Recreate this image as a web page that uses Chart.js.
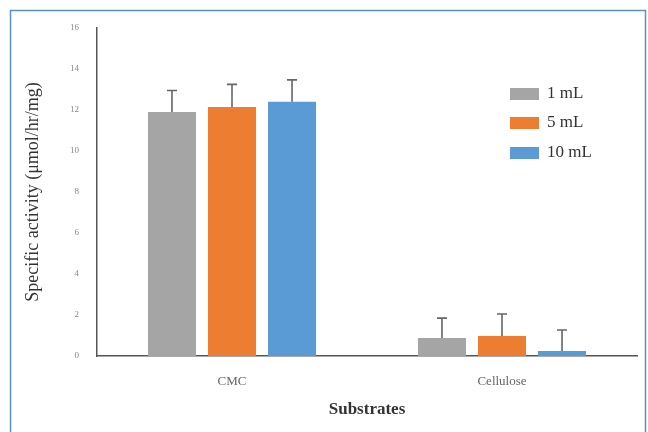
<!DOCTYPE html>
<html>
<head>
<meta charset="utf-8">
<script src="https://cdn.jsdelivr.net/npm/chart.js@4"></script>
<style>
  body { margin: 0; background: #fff; }
  #wrap { width: 648px; height: 432px; }
</style>
</head>
<body>
<div id="wrap"><canvas id="bar-chart" width="648" height="432"></canvas></div>
<script>
// data
const substrates = ["CMC", "Cellulose"];
const seriesNames = ["1 mL", "5 mL", "10 mL"];
const vals1 = [11.9, 0.88];
const vals5 = [12.15, 0.97];
const vals10 = [12.4, 0.25];
const err1 = [1.05, 0.97];
const err5 = [1.1, 1.08];
const err10 = [1.07, 1.02];
const colors = ["#a5a5a5", "#ed7d31", "#5b9bd5"];

const errorBars = {
    id: "errorBars",
    afterDatasetsDraw(chart) {
        const ctx = chart.ctx;
        const y = chart.scales.y;
        ctx.save();
        ctx.strokeStyle = "#666";
        ctx.lineWidth = 1.6;
        chart.data.datasets.forEach((ds, i) => {
            const meta = chart.getDatasetMeta(i);
            meta.data.forEach((bar, j) => {
                const top = y.getPixelForValue(ds.data[j] + ds.errors[j]);
                ctx.beginPath();
                ctx.moveTo(bar.x, bar.y);
                ctx.lineTo(bar.x, top);
                ctx.moveTo(bar.x - 5, top);
                ctx.lineTo(bar.x + 5, top);
                ctx.stroke();
            });
        });
        ctx.restore();
    }
};

const extras = {
    id: "extras",
    afterDraw(chart) {
        const ctx = chart.ctx;
        ctx.save();
        // outer frame
        ctx.strokeStyle = "#5b8fd0";
        ctx.lineWidth = 1.5;
        ctx.strokeRect(10.5, 10.5, 635, 440);
        // legend
        ctx.font = "17px 'Liberation Serif'";
        ctx.textBaseline = "middle";
        const ys = [94, 123, 153];
        chart.data.datasets.forEach((ds, i) => {
            ctx.fillStyle = ds.backgroundColor;
            ctx.fillRect(510, ys[i] - 6, 29, 12);
            ctx.fillStyle = "#333";
            ctx.fillText(ds.label, 547, ys[i]);
        });
        ctx.restore();
    }
};

new Chart(document.getElementById("bar-chart"), {
    type: "bar",
    data: {
        labels: substrates,
        datasets: [
            { label: seriesNames[0], data: vals1, errors: err1, backgroundColor: colors[0] },
            { label: seriesNames[1], data: vals5, errors: err5, backgroundColor: colors[1] },
            { label: seriesNames[2], data: vals10, errors: err10, backgroundColor: colors[2] }
        ]
    },
    options: {
        responsive: false,
        animation: false,
        categoryPercentage: 0.667,
        barPercentage: 0.8,
        layout: { padding: { left: 21, right: 11, top: 28, bottom: 12 } },
        scales: {
            x: {
                grid: { display: false },
                border: { color: "#555", width: 1.5 },
                ticks: { color: "#666", padding: 10, font: { family: "Liberation Serif", size: 13 } },
                title: {
                    display: true,
                    text: "Substrates",
                    color: "#333",
                    padding: 0,
                    font: { family: "Liberation Serif", size: 17, weight: "bold" }
                },
                afterFit(scale) { scale.height = 64; }
            },
            y: {
                min: 0,
                max: 16,
                grid: { display: false },
                border: { color: "#555", width: 1.5 },
                ticks: { stepSize: 2, color: "#888", padding: 10, font: { family: "Liberation Serif", size: 9 } },
                title: {
                    display: true,
                    text: "Specific activity (μmol/hr/mg)",
                    color: "#333",
                    padding: 1,
                    font: { family: "Liberation Serif", size: 18 }
                },
                afterFit(scale) { scale.width = 76; }
            }
        },
        plugins: {
            legend: { display: false },
            tooltip: { enabled: false }
        }
    },
    plugins: [errorBars, extras]
});
</script>
</body>
</html>
